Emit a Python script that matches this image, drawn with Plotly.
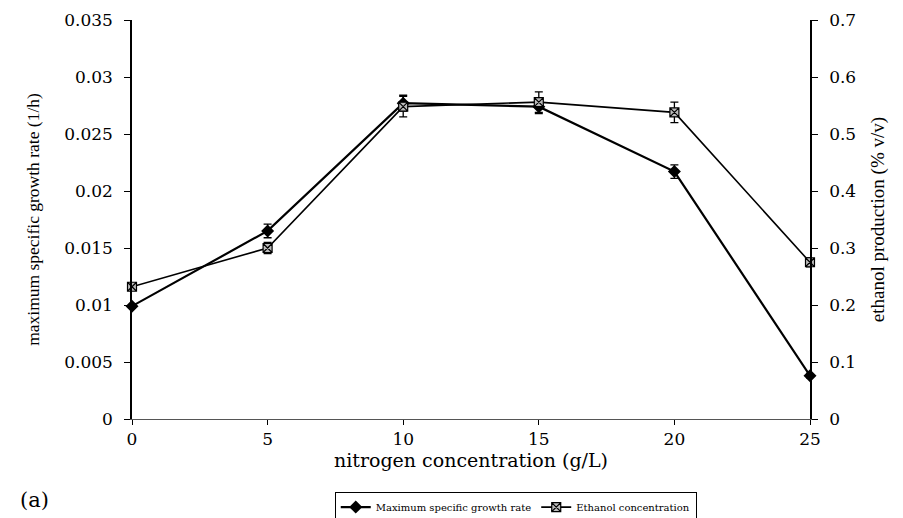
import plotly.graph_objects as go

nitrogen = [0, 5, 10, 15, 20, 25]
growth_rate = [0.0099, 0.0165, 0.0277, 0.0274, 0.0217, 0.0038]
growth_err = [0.0002, 0.0006, 0.0007, 0.0006, 0.0006, 0.0002]
ethanol = [0.232, 0.300, 0.548, 0.556, 0.538, 0.275]
ethanol_err = [0.005, 0.010, 0.018, 0.018, 0.018, 0.008]

x_ticks = [0, 5, 10, 15, 20, 25]

serif = "Liberation Serif, Times New Roman, serif"
wide_serif = "DejaVu Serif, serif"

fig = go.Figure()
fig.add_trace(go.Scatter(
    x=nitrogen, y=growth_rate, name="Maximum specific growth rate",
    mode="lines+markers", cliponaxis=False,
    line=dict(color="black", width=2.2),
    marker=dict(symbol="diamond", size=10, color="black"),
    error_y=dict(type="data", array=growth_err, visible=True,
                 color="black", thickness=1.3, width=4),
))
fig.add_trace(go.Scatter(
    x=nitrogen, y=ethanol, name="Ethanol concentration", yaxis="y2",
    mode="lines+markers", cliponaxis=False,
    line=dict(color="black", width=1.6),
    marker=dict(symbol="square-x", size=9, color="#bbbbbb",
                line=dict(color="black", width=1.2)),
    error_y=dict(type="data", array=ethanol_err, visible=True,
                 color="black", thickness=1.3, width=4),
))

fig.update_layout(
    width=903, height=518,
    margin=dict(l=132, r=93, t=20, b=99, autoexpand=False),
    paper_bgcolor="white", plot_bgcolor="white",
    font=dict(family=serif, size=15, color="black"),
    showlegend=True,
    legend=dict(orientation="h", x=0.566, xanchor="center",
                y=0.021, yanchor="middle", yref="container",
                bordercolor="black", borderwidth=1, bgcolor="white",
                font=dict(family=wide_serif, size=10), itemwidth=30,
                tracegroupgap=0),
    xaxis=dict(range=[0, 25], tickvals=x_ticks, showgrid=False, zeroline=False,
               showline=True, linecolor="#555555", linewidth=1,
               ticks="outside", ticklen=5, tickcolor="black",
               tickfont=dict(family=wide_serif, size=17),
               title=dict(text="nitrogen concentration (g/L)",
                          font=dict(family=wide_serif, size=19),
                          standoff=5)),
    yaxis=dict(range=[0, 0.035], dtick=0.005, showgrid=False, zeroline=False,
               showline=True, linecolor="black", linewidth=1.5,
               ticks="outside", ticklen=6, tickcolor="black",
               ticklabelstandoff=8,
               tickfont=dict(family=wide_serif, size=17),
               title=dict(text="maximum specific growth rate (1/h)",
                          font=dict(size=17.5), standoff=20)),
    yaxis2=dict(range=[0, 0.7], dtick=0.1, overlaying="y", side="right",
                showgrid=False, zeroline=False,
                showline=True, linecolor="black", linewidth=1.5,
                ticks="outside", ticklen=6, tickcolor="black",
                ticklabelstandoff=8,
                tickfont=dict(family=wide_serif, size=17),
                title=dict(text="ethanol production (% v/v)",
                           font=dict(size=19), standoff=16)),
    annotations=[dict(text="(a)", x=-0.1445, y=-0.203, xref="paper", yref="paper",
                      showarrow=False, font=dict(family=wide_serif, size=21),
                      xanchor="center", yanchor="middle")],
)

fig.write_html("out.html")
